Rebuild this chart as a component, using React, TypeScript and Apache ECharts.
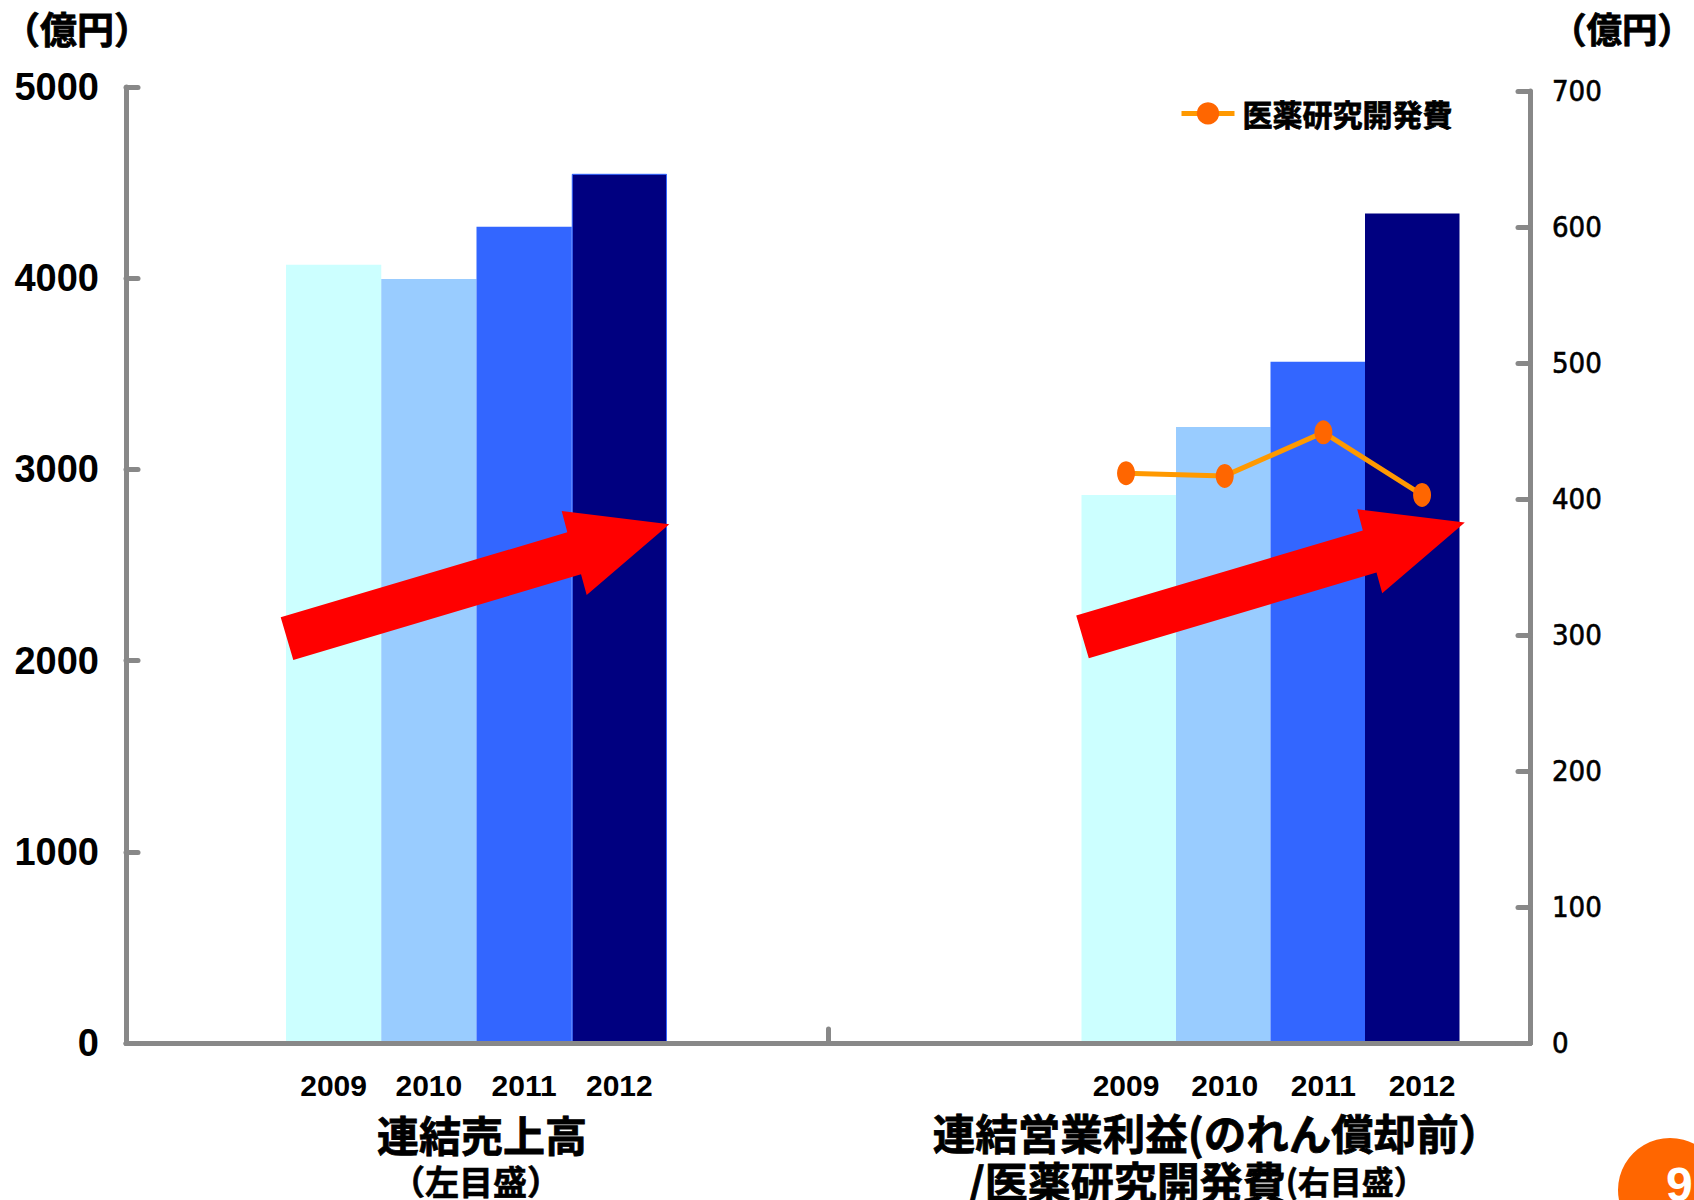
import React, { useEffect, useRef } from 'react';
import * as echarts from 'echarts';

const years = ['2009', '2010', '2011', '2012'];
const salesValues = [4070, 3996, 4269, 4546];
const profitValues = [403, 453, 501, 610];
const rndValues = [419, 417, 449, 403];
const barColors = ['#CCFFFF', '#99CCFF', '#3366FF', '#000080'];
const groupCategories = ['連結売上高', '連結営業利益(のれん償却前）'];
const leftAxisRange = { min: 0, max: 5000, interval: 1000 };
const rightAxisRange = { min: 0, max: 700, interval: 100 };
const lineName = '医薬研究開発費';
const unitLabel = '（億円）';
const leftTitle = '連結売上高';
const leftSubTitle = '（左目盛）';
const rightTitle = '連結営業利益(のれん償却前）';
const rightSubTitleMain = '/医薬研究開発費';
const rightSubTitleSmall = '(右目盛）';
const pageNumber = '9';

const JP = '"Noto Sans CJK JP", "Noto Sans CJK SC", sans-serif';
const NARROW = '"Liberation Sans Narrow", "DejaVu Sans Condensed", "Roboto Condensed", "Liberation Sans", sans-serif';
const AXIS_GRAY = '#888888';

const arrowShape = [
  [0, 0],
  [286.6, -85],
  [281, -106.3],
  [388.6, -93],
  [306, -22.3],
  [300.3, -43],
  [12.6, 42.7],
];

function App() {
  const ref = useRef<HTMLDivElement>(null);

  useEffect(() => {
    if (!ref.current) return;
    const chart = echarts.init(ref.current, null, { renderer: 'svg' });

    const axisLineStyle = { color: AXIS_GRAY, width: 5, cap: 'round' as const };
    const yearLabel = {
      fontSize: 30,
      lineHeight: 30,
      fontWeight: 'bold',
      fontFamily: '"Liberation Sans", Arial, sans-serif',
      color: '#000',
      margin: 27,
    };

    const option: any = {
      animation: false,
      backgroundColor: '#ffffff',
      legend: {
        data: [lineName],
        left: 1174,
        top: 93,
        itemWidth: 53,
        itemHeight: 28,
        lineStyle: { width: 5, color: '#FF9900' },
        textStyle: {
          fontSize: 30,
          fontWeight: 'bold',
          fontFamily: JP,
          color: '#000',
          padding: [0, 0, 0, 3],
          textBorderColor: '#000',
          textBorderWidth: 0.8,
        },
      },
      grid: [
        { left: 126, top: 87, width: 1404, height: 956 },
        { left: 126, top: 91, width: 1404, height: 952 },
        { left: 286, top: 87, width: 381, height: 956 },
        { left: 1081.5, top: 91, width: 378, height: 952 },
        { left: 1076.7, top: 91, width: 394.7, height: 952 },
      ],
      xAxis: [
        {
          gridIndex: 0,
          type: 'category',
          data: groupCategories,
          z: 5,
          axisLine: { show: true, lineStyle: axisLineStyle },
          axisTick: { show: true, inside: true, length: 14, lineStyle: axisLineStyle },
          axisLabel: { show: false },
          splitLine: { show: false },
        },
        { gridIndex: 1, type: 'category', data: groupCategories, show: false },
        {
          gridIndex: 2,
          type: 'category',
          data: years,
          axisLine: { show: false },
          axisTick: { show: false },
          axisLabel: yearLabel,
        },
        { gridIndex: 3, type: 'category', data: years, show: false },
        {
          gridIndex: 4,
          type: 'category',
          data: years,
          axisLine: { show: false },
          axisTick: { show: false },
          axisLabel: yearLabel,
        },
      ],
      yAxis: [
        {
          gridIndex: 0,
          type: 'value',
          position: 'left',
          min: leftAxisRange.min,
          max: leftAxisRange.max,
          interval: leftAxisRange.interval,
          z: 5,
          axisLine: { show: true, lineStyle: axisLineStyle },
          axisTick: { show: true, inside: true, length: 12, lineStyle: axisLineStyle },
          splitLine: { show: false },
          axisLabel: {
            fontSize: 38,
            fontWeight: 'bold',
            fontFamily: '"Liberation Sans", Arial, sans-serif',
            color: '#000',
            margin: 27,
            formatter: (v: number) => String(v),
          },
        },
        {
          gridIndex: 1,
          type: 'value',
          position: 'right',
          min: rightAxisRange.min,
          max: rightAxisRange.max,
          interval: rightAxisRange.interval,
          z: 5,
          axisLine: { show: true, lineStyle: axisLineStyle },
          axisTick: { show: true, inside: true, length: 12, lineStyle: axisLineStyle },
          splitLine: { show: false },
          axisLabel: {
            fontSize: 29,
            fontFamily: NARROW,
            color: '#000',
            textBorderColor: '#000',
            textBorderWidth: 0.6,
            margin: 22,
            formatter: (v: number) => String(v),
          },
        },
        { gridIndex: 2, type: 'value', min: leftAxisRange.min, max: leftAxisRange.max, show: false },
        { gridIndex: 3, type: 'value', min: rightAxisRange.min, max: rightAxisRange.max, show: false },
        { gridIndex: 4, type: 'value', min: rightAxisRange.min, max: rightAxisRange.max, show: false },
      ],
      series: [
        {
          name: groupCategories[0],
          type: 'bar',
          xAxisIndex: 2,
          yAxisIndex: 2,
          barCategoryGap: '0%',
          data: salesValues.map((v, i) => ({
            value: v,
            itemStyle:
              i === 3
                ? { color: barColors[i], borderColor: '#3366FF', borderWidth: 1 }
                : { color: barColors[i] },
          })),
        },
        {
          name: groupCategories[1],
          type: 'bar',
          xAxisIndex: 3,
          yAxisIndex: 3,
          barCategoryGap: '0%',
          data: profitValues.map((v, i) => ({ value: v, itemStyle: { color: barColors[i] } })),
        },
        {
          name: lineName,
          type: 'line',
          xAxisIndex: 4,
          yAxisIndex: 4,
          data: rndValues,
          symbol: 'circle',
          symbolSize: [18, 24],
          itemStyle: { color: '#FF6600' },
          lineStyle: { color: '#FF9900', width: 5 },
          z: 5,
        },
      ],
      graphic: [
        {
          type: 'polygon',
          x: 280.7,
          y: 617.3,
          z: 100,
          shape: { points: arrowShape },
          style: { fill: '#FF0000' },
        },
        {
          type: 'polygon',
          x: 1076.2,
          y: 615.6,
          z: 100,
          shape: { points: arrowShape },
          style: { fill: '#FF0000' },
        },
        {
          type: 'text',
          x: 3,
          y: 28,
          style: {
            text: unitLabel,
            fontSize: 37,
            lineHeight: 37,
            fontWeight: 'bold',
            fontFamily: JP,
            fill: '#000',
            stroke: '#000',
            lineWidth: 0.8,
            align: 'left',
            verticalAlign: 'middle',
          },
        },
        {
          type: 'text',
          x: 1551,
          y: 27,
          style: {
            text: unitLabel,
            fontSize: 35.5,
            lineHeight: 36,
            fontWeight: 'bold',
            fontFamily: JP,
            fill: '#000',
            stroke: '#000',
            lineWidth: 0.8,
            align: 'left',
            verticalAlign: 'middle',
          },
        },
        {
          type: 'text',
          x: 482,
          y: 1133,
          style: {
            text: leftTitle,
            fontSize: 42,
            lineHeight: 42,
            fontWeight: 'bold',
            fontFamily: JP,
            fill: '#000',
            stroke: '#000',
            lineWidth: 0.8,
            align: 'center',
            verticalAlign: 'middle',
          },
        },
        {
          type: 'text',
          x: 476,
          y: 1180,
          style: {
            text: leftSubTitle,
            fontSize: 34,
            lineHeight: 34,
            fontWeight: 'bold',
            fontFamily: JP,
            fill: '#000',
            stroke: '#000',
            lineWidth: 0.6,
            align: 'center',
            verticalAlign: 'middle',
          },
        },
        {
          type: 'text',
          x: 1217,
          y: 1131,
          style: {
            text: rightTitle,
            fontSize: 42.5,
            lineHeight: 42,
            fontWeight: 'bold',
            fontFamily: JP,
            fill: '#000',
            stroke: '#000',
            lineWidth: 0.8,
            align: 'center',
            verticalAlign: 'middle',
          },
        },
        {
          type: 'text',
          x: 968,
          y: 1180,
          style: {
            text: '{a|' + rightSubTitleMain + '}{b|' + rightSubTitleSmall + '}',
            align: 'left',
            verticalAlign: 'middle',
            rich: {
              a: {
                fontSize: 43,
                lineHeight: 36,
                fontWeight: 'bold',
                fontFamily: JP,
                fill: '#000',
                stroke: '#000',
                lineWidth: 0.8,
                verticalAlign: 'middle',
              },
              b: {
                fontSize: 32,
                lineHeight: 36,
                fontWeight: 'bold',
                fontFamily: JP,
                fill: '#000',
                stroke: '#000',
                lineWidth: 0.6,
                verticalAlign: 'middle',
              },
            },
          },
        },
        {
          type: 'circle',
          shape: { cx: 1670, cy: 1190, r: 52 },
          style: { fill: '#FF6600' },
        },
        {
          type: 'text',
          x: 1666,
          y: 1184,
          z: 10,
          style: {
            text: pageNumber,
            fontSize: 48,
            fontWeight: 'bold',
            fontFamily: '"Liberation Sans", Arial, sans-serif',
            fill: '#ffffff',
            align: 'left',
            verticalAlign: 'middle',
          },
        },
      ],
    };

    chart.setOption(option);
    return () => {
      chart.dispose();
    };
  }, []);

  return (
    <div
      ref={ref}
      style={{ position: 'absolute', left: 0, top: 0, width: 1694, height: 1200, background: '#fff' }}
    />
  );
}

export default App;
